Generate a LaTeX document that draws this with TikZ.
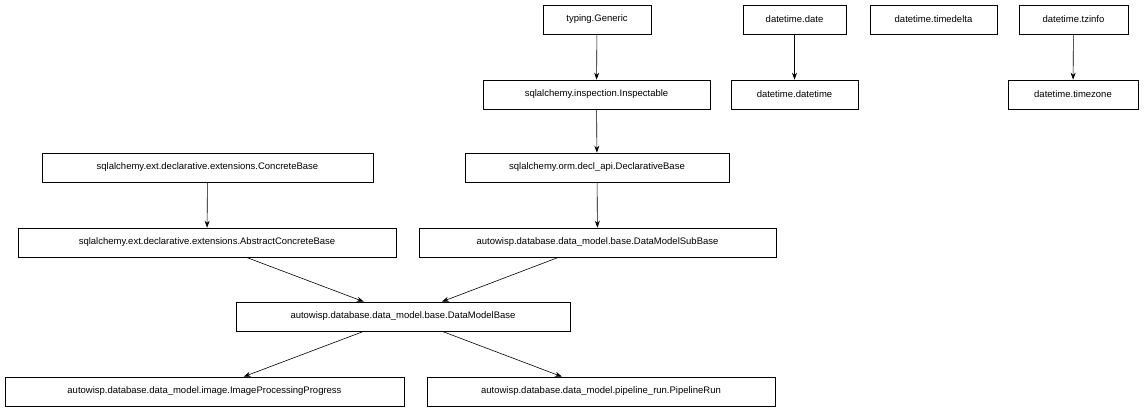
\documentclass[tikz,border=0pt]{standalone}
\usepackage{fontspec}
\setmainfont{Liberation Sans}
\usetikzlibrary{arrows.meta}
\begin{document}
\begin{tikzpicture}[x=1pt,y=-1pt,
  box/.style={draw=black,line width=0.6pt,minimum height=29pt,inner sep=2pt,font=\fontsize{9.5}{11}\selectfont},
  e/.style={-{Stealth[length=7pt,width=5pt]},line width=0.6pt}]
\useasboundingbox (0,0) rectangle (1144,411);
\node[box,minimum width=108pt] (gen) at (597,19.5) {typing.Generic};
\node[box,minimum width=103pt] (date) at (794.5,19.5) {datetime.date};
\node[box,minimum width=127pt] (td) at (933.5,19.5) {datetime.timedelta};
\node[box,minimum width=109pt] (tz) at (1073.5,19.5) {datetime.tzinfo};
\node[box,minimum width=227pt] (insp) at (596.5,94.5) {sqlalchemy.inspection.Inspectable};
\node[box,minimum width=127pt] (dt) at (794.5,94.5) {datetime.datetime};
\node[box,minimum width=130pt] (tzone) at (1073,94.5) {datetime.timezone};
\node[box,minimum width=331pt] (cb) at (207.5,167.5) {sqlalchemy.ext.declarative.extensions.ConcreteBase};
\node[box,minimum width=264pt] (db) at (597,167.5) {sqlalchemy.orm.decl\_api.DeclarativeBase};
\node[box,minimum width=378pt] (acb) at (207,242.5) {sqlalchemy.ext.declarative.extensions.AbstractConcreteBase};
\node[box,minimum width=357pt] (dmsb) at (597.5,242.5) {autowisp.database.data\_model.base.DataModelSubBase};
\node[box,minimum width=334pt] (dmb) at (403,316.5) {autowisp.database.data\_model.base.DataModelBase};
\node[box,minimum width=399pt] (ipp) at (204.5,391.5) {autowisp.database.data\_model.image.ImageProcessingProgress};
\node[box,minimum width=348pt] (pr) at (601,391.5) {autowisp.database.data\_model.pipeline\_run.PipelineRun};
\draw[e] (gen) -- (insp);
\draw[e] (date) -- (dt);
\draw[e] (tz) -- (tzone);
\draw[e] (insp) -- (db);
\draw[e] (db) -- (dmsb);
\draw[e] (cb) -- (acb);
\draw[e] (acb) -- (dmb);
\draw[e] (dmsb) -- (dmb);
\draw[e] (dmb) -- (ipp);
\draw[e] (dmb) -- (pr);
\end{tikzpicture}
\end{document}
